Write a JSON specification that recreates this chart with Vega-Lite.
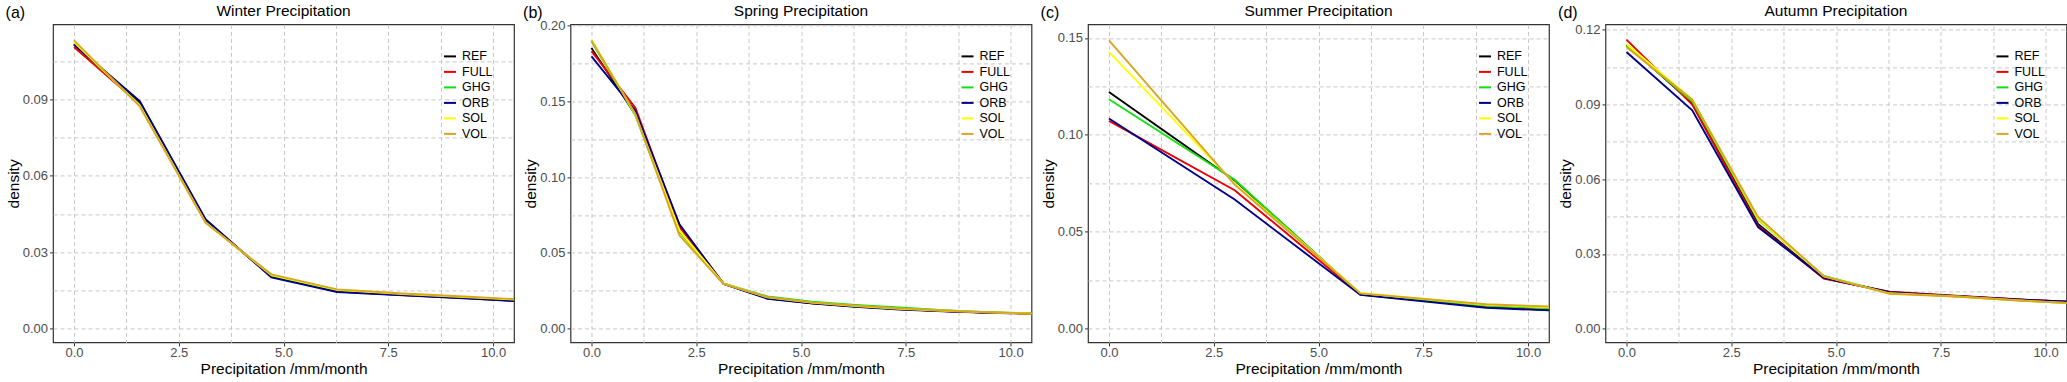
{
  "$schema": "https://vega.github.io/schema/vega-lite/v6.json",
  "padding": {"left": 5, "top": 3.4, "right": 4, "bottom": 3},
  "background": "white",
  "config": {
    "font": "Liberation Sans",
    "view": {"stroke": "#333333", "strokeWidth": 1.2},
    "axis": {
      "labelFont": "Liberation Sans", "titleFont": "Liberation Sans",
      "labelFontSize": 13, "titleFontSize": 15.5, "labelColor": "#4D4D4D",
      "titleColor": "#000000", "titleFontWeight": "normal",
      "tickColor": "#333333", "tickSize": 3.5, "domain": false,
      "gridColor": "#C8C8C8", "gridDash": [4, 3], "gridWidth": 1,
      "labelPadding": 2
    },
    "axisX": {"titlePadding": 2, "labelPadding": 0.5},
    "axisY": {"titlePadding": 1},
    "title": {"font": "Liberation Sans", "fontSize": 15.5, "fontWeight": "normal", "color": "#000000", "offset": 4.5},
    "legend": {
      "orient": "none", "legendX": 390, "legendY": 25, "title": null,
      "labelFont": "Liberation Sans", "labelFontSize": 12.5, "labelColor": "#000000",
      "symbolType": "stroke", "symbolSize": 144, "symbolStrokeWidth": 2,
      "rowPadding": 1.5, "labelOffset": 5, "padding": 0
    }
  },
  "data": {"values": [
    {"s":"Winter","e":"REF","x":0,"d":0.1116},{"s":"Winter","e":"REF","x":1.57,"d":0.0885},{"s":"Winter","e":"REF","x":3.14,"d":0.0425},{"s":"Winter","e":"REF","x":4.71,"d":0.0204},{"s":"Winter","e":"REF","x":6.28,"d":0.0146},{"s":"Winter","e":"REF","x":7.85,"d":0.0132},{"s":"Winter","e":"REF","x":9.42,"d":0.0119},{"s":"Winter","e":"REF","x":11.0,"d":0.0105},
    {"s":"Winter","e":"FULL","x":0,"d":0.1105},{"s":"Winter","e":"FULL","x":1.57,"d":0.088},{"s":"Winter","e":"FULL","x":3.14,"d":0.042},{"s":"Winter","e":"FULL","x":4.71,"d":0.0206},{"s":"Winter","e":"FULL","x":6.28,"d":0.0148},{"s":"Winter","e":"FULL","x":7.85,"d":0.0133},{"s":"Winter","e":"FULL","x":9.42,"d":0.012},{"s":"Winter","e":"FULL","x":11.0,"d":0.0106},
    {"s":"Winter","e":"GHG","x":0,"d":0.112},{"s":"Winter","e":"GHG","x":1.57,"d":0.0878},{"s":"Winter","e":"GHG","x":3.14,"d":0.0418},{"s":"Winter","e":"GHG","x":4.71,"d":0.0208},{"s":"Winter","e":"GHG","x":6.28,"d":0.015},{"s":"Winter","e":"GHG","x":7.85,"d":0.0135},{"s":"Winter","e":"GHG","x":9.42,"d":0.0122},{"s":"Winter","e":"GHG","x":11.0,"d":0.0108},
    {"s":"Winter","e":"ORB","x":0,"d":0.1115},{"s":"Winter","e":"ORB","x":1.57,"d":0.0893},{"s":"Winter","e":"ORB","x":3.14,"d":0.0429},{"s":"Winter","e":"ORB","x":4.71,"d":0.0201},{"s":"Winter","e":"ORB","x":6.28,"d":0.0144},{"s":"Winter","e":"ORB","x":7.85,"d":0.0131},{"s":"Winter","e":"ORB","x":9.42,"d":0.0118},{"s":"Winter","e":"ORB","x":11.0,"d":0.0104},
    {"s":"Winter","e":"SOL","x":0,"d":0.1125},{"s":"Winter","e":"SOL","x":1.57,"d":0.0875},{"s":"Winter","e":"SOL","x":3.14,"d":0.0417},{"s":"Winter","e":"SOL","x":4.71,"d":0.021},{"s":"Winter","e":"SOL","x":6.28,"d":0.0152},{"s":"Winter","e":"SOL","x":7.85,"d":0.0136},{"s":"Winter","e":"SOL","x":9.42,"d":0.0123},{"s":"Winter","e":"SOL","x":11.0,"d":0.011},
    {"s":"Winter","e":"VOL","x":0,"d":0.1131},{"s":"Winter","e":"VOL","x":1.57,"d":0.0872},{"s":"Winter","e":"VOL","x":3.14,"d":0.0415},{"s":"Winter","e":"VOL","x":4.71,"d":0.0213},{"s":"Winter","e":"VOL","x":6.28,"d":0.0154},{"s":"Winter","e":"VOL","x":7.85,"d":0.0138},{"s":"Winter","e":"VOL","x":9.42,"d":0.0125},{"s":"Winter","e":"VOL","x":11.0,"d":0.0112},

    {"s":"Spring","e":"REF","x":0,"d":0.185},{"s":"Spring","e":"REF","x":1.05,"d":0.141},{"s":"Spring","e":"REF","x":2.1,"d":0.068},{"s":"Spring","e":"REF","x":3.15,"d":0.0298},{"s":"Spring","e":"REF","x":4.2,"d":0.0201},{"s":"Spring","e":"REF","x":5.25,"d":0.0168},{"s":"Spring","e":"REF","x":6.3,"d":0.0147},{"s":"Spring","e":"REF","x":7.35,"d":0.0129},{"s":"Spring","e":"REF","x":8.4,"d":0.0116},{"s":"Spring","e":"REF","x":9.45,"d":0.0106},{"s":"Spring","e":"REF","x":10.5,"d":0.0099},{"s":"Spring","e":"REF","x":11.55,"d":0.0093},
    {"s":"Spring","e":"FULL","x":0,"d":0.183},{"s":"Spring","e":"FULL","x":1.05,"d":0.1455},{"s":"Spring","e":"FULL","x":2.1,"d":0.067},{"s":"Spring","e":"FULL","x":3.15,"d":0.0297},{"s":"Spring","e":"FULL","x":4.2,"d":0.0202},{"s":"Spring","e":"FULL","x":5.25,"d":0.017},{"s":"Spring","e":"FULL","x":6.3,"d":0.0148},{"s":"Spring","e":"FULL","x":7.35,"d":0.013},{"s":"Spring","e":"FULL","x":8.4,"d":0.0117},{"s":"Spring","e":"FULL","x":9.45,"d":0.0107},{"s":"Spring","e":"FULL","x":10.5,"d":0.01},{"s":"Spring","e":"FULL","x":11.55,"d":0.0094},
    {"s":"Spring","e":"GHG","x":0,"d":0.1895},{"s":"Spring","e":"GHG","x":1.05,"d":0.1405},{"s":"Spring","e":"GHG","x":2.1,"d":0.064},{"s":"Spring","e":"GHG","x":3.15,"d":0.0299},{"s":"Spring","e":"GHG","x":4.2,"d":0.0213},{"s":"Spring","e":"GHG","x":5.25,"d":0.0178},{"s":"Spring","e":"GHG","x":6.3,"d":0.0157},{"s":"Spring","e":"GHG","x":7.35,"d":0.014},{"s":"Spring","e":"GHG","x":8.4,"d":0.0122},{"s":"Spring","e":"GHG","x":9.45,"d":0.0109},{"s":"Spring","e":"GHG","x":10.5,"d":0.0101},{"s":"Spring","e":"GHG","x":11.55,"d":0.0095},
    {"s":"Spring","e":"ORB","x":0,"d":0.1795},{"s":"Spring","e":"ORB","x":1.05,"d":0.1435},{"s":"Spring","e":"ORB","x":2.1,"d":0.0688},{"s":"Spring","e":"ORB","x":3.15,"d":0.0296},{"s":"Spring","e":"ORB","x":4.2,"d":0.0198},{"s":"Spring","e":"ORB","x":5.25,"d":0.0167},{"s":"Spring","e":"ORB","x":6.3,"d":0.0145},{"s":"Spring","e":"ORB","x":7.35,"d":0.0127},{"s":"Spring","e":"ORB","x":8.4,"d":0.0115},{"s":"Spring","e":"ORB","x":9.45,"d":0.0105},{"s":"Spring","e":"ORB","x":10.0,"d":0.0102},
    {"s":"Spring","e":"SOL","x":0,"d":0.1905},{"s":"Spring","e":"SOL","x":1.05,"d":0.141},{"s":"Spring","e":"SOL","x":2.1,"d":0.0648},{"s":"Spring","e":"SOL","x":3.15,"d":0.0297},{"s":"Spring","e":"SOL","x":4.2,"d":0.0207},{"s":"Spring","e":"SOL","x":5.25,"d":0.0172},{"s":"Spring","e":"SOL","x":6.3,"d":0.015},{"s":"Spring","e":"SOL","x":7.35,"d":0.0132},{"s":"Spring","e":"SOL","x":8.4,"d":0.0119},{"s":"Spring","e":"SOL","x":9.45,"d":0.0108},{"s":"Spring","e":"SOL","x":10.5,"d":0.01},{"s":"Spring","e":"SOL","x":11.55,"d":0.0094},
    {"s":"Spring","e":"VOL","x":0,"d":0.19},{"s":"Spring","e":"VOL","x":1.05,"d":0.1415},{"s":"Spring","e":"VOL","x":2.1,"d":0.0615},{"s":"Spring","e":"VOL","x":3.15,"d":0.0296},{"s":"Spring","e":"VOL","x":4.2,"d":0.0209},{"s":"Spring","e":"VOL","x":5.25,"d":0.0174},{"s":"Spring","e":"VOL","x":6.3,"d":0.0152},{"s":"Spring","e":"VOL","x":7.35,"d":0.0134},{"s":"Spring","e":"VOL","x":8.4,"d":0.012},{"s":"Spring","e":"VOL","x":9.45,"d":0.0109},{"s":"Spring","e":"VOL","x":10.5,"d":0.01},{"s":"Spring","e":"VOL","x":11.55,"d":0.0094},

    {"s":"Summer","e":"REF","x":0,"d":0.1221},{"s":"Summer","e":"REF","x":3,"d":0.0765},{"s":"Summer","e":"REF","x":6,"d":0.0178},{"s":"Summer","e":"REF","x":9,"d":0.0112},{"s":"Summer","e":"REF","x":12,"d":0.0082},
    {"s":"Summer","e":"FULL","x":0,"d":0.1072},{"s":"Summer","e":"FULL","x":3,"d":0.0714},{"s":"Summer","e":"FULL","x":6,"d":0.0176},{"s":"Summer","e":"FULL","x":9,"d":0.0115},{"s":"Summer","e":"FULL","x":12,"d":0.0086},
    {"s":"Summer","e":"GHG","x":0,"d":0.1184},{"s":"Summer","e":"GHG","x":3,"d":0.0768},{"s":"Summer","e":"GHG","x":6,"d":0.0177},{"s":"Summer","e":"GHG","x":9,"d":0.0118},{"s":"Summer","e":"GHG","x":12,"d":0.009},
    {"s":"Summer","e":"ORB","x":0,"d":0.1084},{"s":"Summer","e":"ORB","x":3,"d":0.0666},{"s":"Summer","e":"ORB","x":6,"d":0.0174},{"s":"Summer","e":"ORB","x":9,"d":0.0108},{"s":"Summer","e":"ORB","x":12,"d":0.008},
    {"s":"Summer","e":"SOL","x":0,"d":0.1428},{"s":"Summer","e":"SOL","x":3,"d":0.0748},{"s":"Summer","e":"SOL","x":6,"d":0.0184},{"s":"Summer","e":"SOL","x":9,"d":0.0123},{"s":"Summer","e":"SOL","x":12,"d":0.0098},
    {"s":"Summer","e":"VOL","x":0,"d":0.1488},{"s":"Summer","e":"VOL","x":3,"d":0.0743},{"s":"Summer","e":"VOL","x":6,"d":0.0182},{"s":"Summer","e":"VOL","x":9,"d":0.0126},{"s":"Summer","e":"VOL","x":12,"d":0.0102},

    {"s":"Autumn","e":"REF","x":0,"d":0.114},{"s":"Autumn","e":"REF","x":1.57,"d":0.0905},{"s":"Autumn","e":"REF","x":3.14,"d":0.042},{"s":"Autumn","e":"REF","x":4.71,"d":0.0203},{"s":"Autumn","e":"REF","x":6.28,"d":0.0146},{"s":"Autumn","e":"REF","x":7.85,"d":0.0131},{"s":"Autumn","e":"REF","x":9.42,"d":0.0116},{"s":"Autumn","e":"REF","x":11.0,"d":0.0104},
    {"s":"Autumn","e":"FULL","x":0,"d":0.116},{"s":"Autumn","e":"FULL","x":1.57,"d":0.0899},{"s":"Autumn","e":"FULL","x":3.14,"d":0.0413},{"s":"Autumn","e":"FULL","x":4.71,"d":0.0201},{"s":"Autumn","e":"FULL","x":6.28,"d":0.0148},{"s":"Autumn","e":"FULL","x":7.85,"d":0.0132},{"s":"Autumn","e":"FULL","x":9.42,"d":0.0117},{"s":"Autumn","e":"FULL","x":11.0,"d":0.0105},
    {"s":"Autumn","e":"GHG","x":0,"d":0.1135},{"s":"Autumn","e":"GHG","x":1.57,"d":0.0912},{"s":"Autumn","e":"GHG","x":3.14,"d":0.0438},{"s":"Autumn","e":"GHG","x":4.71,"d":0.0212},{"s":"Autumn","e":"GHG","x":6.28,"d":0.0143},{"s":"Autumn","e":"GHG","x":7.85,"d":0.013},{"s":"Autumn","e":"GHG","x":9.42,"d":0.0113},{"s":"Autumn","e":"GHG","x":11.0,"d":0.0098},
    {"s":"Autumn","e":"ORB","x":0,"d":0.111},{"s":"Autumn","e":"ORB","x":1.57,"d":0.0876},{"s":"Autumn","e":"ORB","x":3.14,"d":0.0408},{"s":"Autumn","e":"ORB","x":4.71,"d":0.0204},{"s":"Autumn","e":"ORB","x":6.28,"d":0.0146},{"s":"Autumn","e":"ORB","x":7.85,"d":0.013},{"s":"Autumn","e":"ORB","x":9.42,"d":0.0116},{"s":"Autumn","e":"ORB","x":11.0,"d":0.0106},
    {"s":"Autumn","e":"SOL","x":0,"d":0.1142},{"s":"Autumn","e":"SOL","x":1.57,"d":0.092},{"s":"Autumn","e":"SOL","x":3.14,"d":0.0441},{"s":"Autumn","e":"SOL","x":4.71,"d":0.021},{"s":"Autumn","e":"SOL","x":6.28,"d":0.0142},{"s":"Autumn","e":"SOL","x":7.85,"d":0.0129},{"s":"Autumn","e":"SOL","x":9.42,"d":0.0113},{"s":"Autumn","e":"SOL","x":11.0,"d":0.0099},
    {"s":"Autumn","e":"VOL","x":0,"d":0.113},{"s":"Autumn","e":"VOL","x":1.57,"d":0.0919},{"s":"Autumn","e":"VOL","x":3.14,"d":0.0448},{"s":"Autumn","e":"VOL","x":4.71,"d":0.0211},{"s":"Autumn","e":"VOL","x":6.28,"d":0.014},{"s":"Autumn","e":"VOL","x":7.85,"d":0.0129},{"s":"Autumn","e":"VOL","x":9.42,"d":0.0112},{"s":"Autumn","e":"VOL","x":11.0,"d":0.0099}
  ]},
  "spacing": 7.5,
  "resolve": {"scale": {"color": "independent"}, "legend": {"color": "independent"}},
  "hconcat": [
    {
      "title": {"text": "(a)", "anchor": "start", "frame": "bounds", "fontSize": 16, "offset": -17.1},
      "vconcat": [{
        "title": {"text": "Winter Precipitation", "offset": 4.5},
        "width": 461, "height": 318,
        "transform": [{"filter": "datum.s === 'Winter'"}],
        "mark": {"type": "line", "clip": true, "strokeWidth": 1.9},
        "encoding": {
          "x": {"field": "x", "type": "quantitative", "scale": {"domain": [-0.5, 10.5], "nice": false, "zero": false},
            "axis": {"title": "Precipitation /mm/month", "values": [0, 1.25, 2.5, 3.75, 5, 6.25, 7.5, 8.75, 10],
              "labelExpr": "datum.value % 2.5 === 0 ? format(datum.value, '.1f') : ''",
              "tickOpacity": {"condition": {"test": "datum.value % 2.5 === 0", "value": 1}, "value": 0}}},
          "y": {"field": "d", "type": "quantitative", "scale": {"domain": [-0.0054, 0.1194], "nice": false, "zero": false},
            "axis": {"title": "density", "values": [0, 0.015, 0.03, 0.045, 0.06, 0.075, 0.09, 0.105],
              "labelExpr": "abs(datum.value / 0.03 - round(datum.value / 0.03)) < 0.001 ? format(datum.value, '.2f') : ''",
              "tickOpacity": {"condition": {"test": "abs(datum.value / 0.03 - round(datum.value / 0.03)) < 0.001", "value": 1}, "value": 0}}},
          "color": {"field": "e", "type": "nominal",
            "scale": {"domain": ["REF", "FULL", "GHG", "ORB", "SOL", "VOL"], "range": ["#000000", "#EE0000", "#11E011", "#00008B", "#FFFF00", "#DAA520"]}}
        }
      }]
    },
    {
      "title": {"text": "(b)", "anchor": "start", "frame": "bounds", "fontSize": 16, "offset": -17.1},
      "vconcat": [{
        "title": {"text": "Spring Precipitation", "offset": -0.5},
        "width": 461, "height": 318,
        "transform": [{"filter": "datum.s === 'Spring'"}],
        "mark": {"type": "line", "clip": true, "strokeWidth": 1.9},
        "encoding": {
          "x": {"field": "x", "type": "quantitative", "scale": {"domain": [-0.5, 10.5], "nice": false, "zero": false},
            "axis": {"title": "Precipitation /mm/month", "values": [0, 1.25, 2.5, 3.75, 5, 6.25, 7.5, 8.75, 10],
              "labelExpr": "datum.value % 2.5 === 0 ? format(datum.value, '.1f') : ''",
              "tickOpacity": {"condition": {"test": "datum.value % 2.5 === 0", "value": 1}, "value": 0}}},
          "y": {"field": "d", "type": "quantitative", "scale": {"domain": [-0.009, 0.2006], "nice": false, "zero": false},
            "axis": {"title": "density", "values": [0, 0.025, 0.05, 0.075, 0.1, 0.125, 0.15, 0.175, 0.2],
              "labelExpr": "abs(datum.value / 0.05 - round(datum.value / 0.05)) < 0.001 ? format(datum.value, '.2f') : ''",
              "tickOpacity": {"condition": {"test": "abs(datum.value / 0.05 - round(datum.value / 0.05)) < 0.001", "value": 1}, "value": 0}}},
          "color": {"field": "e", "type": "nominal",
            "scale": {"domain": ["REF", "FULL", "GHG", "ORB", "SOL", "VOL"], "range": ["#000000", "#EE0000", "#11E011", "#00008B", "#FFFF00", "#DAA520"]}}
        }
      }]
    },
    {
      "title": {"text": "(c)", "anchor": "start", "frame": "bounds", "fontSize": 16, "offset": -17.1},
      "vconcat": [{
        "title": {"text": "Summer Precipitation", "offset": 4.5},
        "width": 461, "height": 318,
        "transform": [{"filter": "datum.s === 'Summer'"}],
        "mark": {"type": "line", "clip": true, "strokeWidth": 1.9},
        "encoding": {
          "x": {"field": "x", "type": "quantitative", "scale": {"domain": [-0.5, 10.5], "nice": false, "zero": false},
            "axis": {"title": "Precipitation /mm/month", "values": [0, 1.25, 2.5, 3.75, 5, 6.25, 7.5, 8.75, 10],
              "labelExpr": "datum.value % 2.5 === 0 ? format(datum.value, '.1f') : ''",
              "tickOpacity": {"condition": {"test": "datum.value % 2.5 === 0", "value": 1}, "value": 0}}},
          "y": {"field": "d", "type": "quantitative", "scale": {"domain": [-0.0071, 0.157], "nice": false, "zero": false},
            "axis": {"title": "density", "values": [0, 0.025, 0.05, 0.075, 0.1, 0.125, 0.15],
              "labelExpr": "abs(datum.value / 0.05 - round(datum.value / 0.05)) < 0.001 ? format(datum.value, '.2f') : ''",
              "tickOpacity": {"condition": {"test": "abs(datum.value / 0.05 - round(datum.value / 0.05)) < 0.001", "value": 1}, "value": 0}}},
          "color": {"field": "e", "type": "nominal",
            "scale": {"domain": ["REF", "FULL", "GHG", "ORB", "SOL", "VOL"], "range": ["#000000", "#EE0000", "#11E011", "#00008B", "#FFFF00", "#DAA520"]}}
        }
      }]
    },
    {
      "title": {"text": "(d)", "anchor": "start", "frame": "bounds", "fontSize": 16, "offset": -17.1},
      "vconcat": [{
        "title": {"text": "Autumn Precipitation", "offset": 3.8},
        "width": 461, "height": 318,
        "transform": [{"filter": "datum.s === 'Autumn'"}],
        "mark": {"type": "line", "clip": true, "strokeWidth": 1.9},
        "encoding": {
          "x": {"field": "x", "type": "quantitative", "scale": {"domain": [-0.5, 10.5], "nice": false, "zero": false},
            "axis": {"title": "Precipitation /mm/month", "values": [0, 1.25, 2.5, 3.75, 5, 6.25, 7.5, 8.75, 10],
              "labelExpr": "datum.value % 2.5 === 0 ? format(datum.value, '.1f') : ''",
              "tickOpacity": {"condition": {"test": "datum.value % 2.5 === 0", "value": 1}, "value": 0}}},
          "y": {"field": "d", "type": "quantitative", "scale": {"domain": [-0.0055, 0.1221], "nice": false, "zero": false},
            "axis": {"title": "density", "values": [0, 0.015, 0.03, 0.045, 0.06, 0.075, 0.09, 0.105, 0.12],
              "labelExpr": "abs(datum.value / 0.03 - round(datum.value / 0.03)) < 0.001 ? format(datum.value, '.2f') : ''",
              "tickOpacity": {"condition": {"test": "abs(datum.value / 0.03 - round(datum.value / 0.03)) < 0.001", "value": 1}, "value": 0}}},
          "color": {"field": "e", "type": "nominal",
            "scale": {"domain": ["REF", "FULL", "GHG", "ORB", "SOL", "VOL"], "range": ["#000000", "#EE0000", "#11E011", "#00008B", "#FFFF00", "#DAA520"]}}
        }
      }]
    }
  ]
}
